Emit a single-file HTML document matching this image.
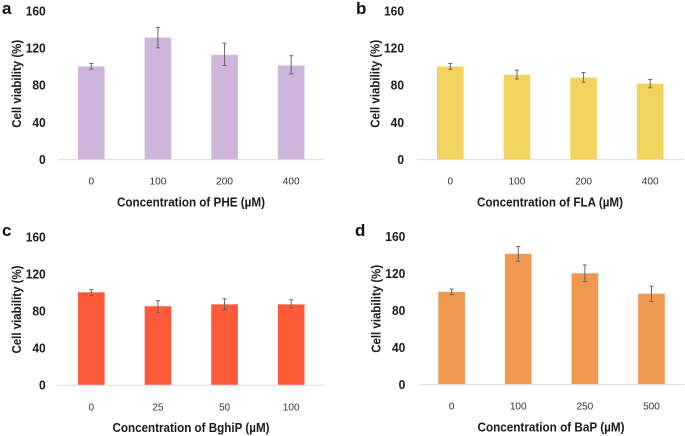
<!DOCTYPE html>
<html lang="en">
<head>
<meta charset="utf-8">
<title>Cell viability charts</title>
<style>
html,body{margin:0;padding:0;background:#fff;width:685px;height:436px;overflow:hidden}
svg{display:block;font-family:"Liberation Sans",sans-serif;filter:blur(0.3px)}
</style>
</head>
<body>
<svg id="figure" xmlns="http://www.w3.org/2000/svg" width="685" height="436" viewBox="0 0 685 436"></svg>
<script>
var yTicks = [0, 40, 80, 120, 160];

var catsA = ["0", "100", "200", "400"];
var valsA = [100, 131, 112.5, 101];
var hiA = [103.2, 142, 125, 111.5];
var loA = [97, 120, 101, 92];

var catsB = ["0", "100", "200", "400"];
var valsB = [100, 91, 88, 81.5];
var hiB = [103.2, 96, 93.5, 86];
var loB = [97, 86.5, 83, 77];

var catsC = ["0", "25", "50", "100"];
var valsC = [100, 85, 87, 87];
var hiC = [103, 91, 93, 92];
var loC = [96.5, 78, 81, 83];

var catsD = ["0", "100", "250", "500"];
var valsD = [100, 141, 120, 98];
var hiD = [103, 149, 129, 106];
var loD = [97, 133, 111, 89.5];

var NS = "http://www.w3.org/2000/svg";
var fig = document.getElementById("figure");

function mk(parent, tag, attrs, txt) {
  var el = document.createElementNS(NS, tag);
  for (var k in attrs) el.setAttribute(k, attrs[k]);
  if (txt !== undefined) el.textContent = txt;
  parent.appendChild(el);
  return el;
}

function drawPanel(p) {
  var g = mk(fig, "g", {});
  
  

  var yScale = function (v) { return p.y0 - v * (p.y0 - p.y160) / 160; };
  var band = (p.x1 - p.x0) / p.cats.length;
  var xScale = function (i) { return p.x0 + band * (i + 0.5); };

  var letter = mk(g, "text", {x: p.letterX, y: p.letterY, "font-size": 17, "font-weight": "bold", fill: "#111"}, p.letter);
  
  

  yTicks.forEach(function (t) {
    var tick = mk(g, "text", {x: p.tickRight, y: yScale(t) + 4.6, "font-size": 12.5, "font-weight": "bold", "text-anchor": "end", fill: "#1a1a1a", textLength: String(t).length * 6.67, lengthAdjust: "spacingAndGlyphs"}, String(t));
    
    
  });

  p.vals.forEach(function (v, i) {
    var cx = xScale(i);
    var bar = mk(g, "rect", {x: cx - 13.3, y: yScale(v), width: 26.6, height: p.y0 - yScale(v), fill: p.color});
    
    
  });

  var axis = mk(g, "line", {x1: p.x0, x2: p.x1, y1: p.y0 + 0.3, y2: p.y0 + 0.3, stroke: "#dcdcdc", "stroke-width": 1});
  
  

  p.vals.forEach(function (v, i) {
    var cx = xScale(i);
    var stem = mk(g, "line", {x1: cx, x2: cx, y1: yScale(p.hi[i]), y2: yScale(p.lo[i]), stroke: "#666", "stroke-width": 1});
    
    
    var capTop = mk(g, "line", {x1: cx - 2, x2: cx + 2, y1: yScale(p.hi[i]), y2: yScale(p.hi[i]), stroke: "#666", "stroke-width": 1});
    
    
    var capBottom = mk(g, "line", {x1: cx - 2, x2: cx + 2, y1: yScale(p.lo[i]), y2: yScale(p.lo[i]), stroke: "#666", "stroke-width": 1});
    
    
    var label = mk(g, "text", {x: cx, y: p.y0 + 25.3, "font-size": 10.5, "text-anchor": "middle", fill: "#333", textLength: p.cats[i].length * 5.6, lengthAdjust: "spacingAndGlyphs"}, p.cats[i]);
    
    
  });

  var xTitle = mk(g, "text", {x: p.titleX, y: p.y0 + 47, "font-size": 12.5, "font-weight": "bold", "text-anchor": "middle", fill: "#1a1a1a", textLength: p.titleLen, lengthAdjust: "spacingAndGlyphs"}, p.title);
  
  

  var yMid = p.y0 - 75.5;
  var yTitle = mk(g, "text", {x: 0, y: 0, transform: "translate(" + (p.yTitleX + 4.5) + "," + yMid + ") rotate(-90)", "font-size": 12.5, "font-weight": "bold", "text-anchor": "middle", fill: "#1a1a1a", textLength: 88, lengthAdjust: "spacingAndGlyphs"}, "Cell viability (%)");
  
  
}

drawPanel({letter: "a", letterX: 2, letterY: 14, x0: 58, x1: 324.5, y0: 159.3, y160: 10.7, tickRight: 45.7, yTitleX: 16.5, titleX: 191, titleLen: 148, color: "#CDB5DC", cats: catsA, vals: valsA, hi: hiA, lo: loA, title: "Concentration of PHE (\u00B5M)"});
drawPanel({letter: "b", letterX: 356, letterY: 14, x0: 417, x1: 683.5, y0: 159.3, y160: 10.7, tickRight: 404, yTitleX: 375, titleX: 550, titleLen: 146, color: "#F3D35F", cats: catsB, vals: valsB, hi: hiB, lo: loB, title: "Concentration of FLA (\u00B5M)"});
drawPanel({letter: "c", letterX: 2, letterY: 236, x0: 58, x1: 324.5, y0: 385, y160: 236.7, tickRight: 45.7, yTitleX: 16.5, titleX: 191, titleLen: 157, color: "#FD5A3A", cats: catsC, vals: valsC, hi: hiC, lo: loC, title: "Concentration of BghiP (\u00B5M)"});
drawPanel({letter: "d", letterX: 355, letterY: 236, x0: 418.3, x1: 684.8, y0: 384.3, y160: 236.3, tickRight: 405.3, yTitleX: 376, titleX: 551, titleLen: 147, color: "#EE994F", cats: catsD, vals: valsD, hi: hiD, lo: loD, title: "Concentration of BaP (\u00B5M)"});
</script>
</body>
</html>
